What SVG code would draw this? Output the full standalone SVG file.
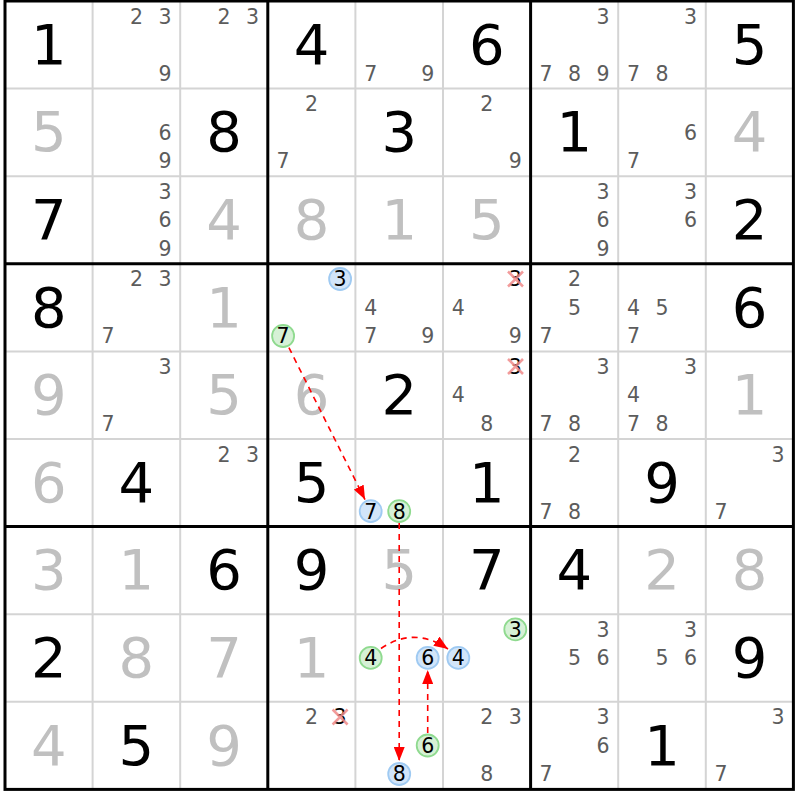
<svg xmlns="http://www.w3.org/2000/svg" width="800" height="800" viewBox="0 0 800 800">
<style>
text{font-family:"DejaVu Sans","Verdana",sans-serif;text-anchor:middle}
.g{font-size:56px;fill:#000}
.s{font-size:56px;fill:#c0c0c0}
.c{font-size:20.5px;fill:#5c5c5c}
.k{font-size:20.5px;fill:#000}
.thin{stroke:#d4d4d4;stroke-width:2}
.thick{stroke:#000;stroke-width:3}
.cb{fill:#d2e5f9;stroke:#9fcaf2;stroke-width:1.8}
.cg{fill:#d6f1d6;stroke:#8fda8f;stroke-width:1.8}
.x{stroke:#f08a8a;stroke-width:2.5;stroke-opacity:0.85}
.lnk{fill:none;stroke:#f00;stroke-width:1.6;stroke-dasharray:6,5}
</style>
<defs>
<marker id="ah" markerWidth="14" markerHeight="11" refX="14" refY="5.5" orient="auto" markerUnits="userSpaceOnUse">
<path d="M0,0 L14,5.5 L0,11 z" fill="#f00"/>
</marker>
</defs>
<rect width="800" height="800" fill="#fff"/>
<g id="grid">
<g class="thin">
<line x1="92.6" y1="1" x2="92.6" y2="789.4"/><line x1="180.2" y1="1" x2="180.2" y2="789.4"/>
<line x1="355.4" y1="1" x2="355.4" y2="789.4"/><line x1="443" y1="1" x2="443" y2="789.4"/>
<line x1="618.2" y1="1" x2="618.2" y2="789.4"/><line x1="705.8" y1="1" x2="705.8" y2="789.4"/>
<line y1="88.6" x1="5" y2="88.6" x2="793.4"/><line y1="176.2" x1="5" y2="176.2" x2="793.4"/>
<line y1="351.4" x1="5" y2="351.4" x2="793.4"/><line y1="439" x1="5" y2="439" x2="793.4"/>
<line y1="614.2" x1="5" y2="614.2" x2="793.4"/><line y1="701.8" x1="5" y2="701.8" x2="793.4"/>
</g>
<g class="thick">
<line x1="267.8" y1="1" x2="267.8" y2="789.4"/><line x1="530.6" y1="1" x2="530.6" y2="789.4"/>
<line y1="263.8" x1="5" y2="263.8" x2="793.4"/><line y1="526.6" x1="5" y2="526.6" x2="793.4"/>
<rect x="5" y="1" width="788.4" height="788.4" fill="none"/>
</g>
</g>
<g id="r1">
<g id="r1c1"><text class="g" x="48.8" y="63.8">1</text></g>
<g id="r1c2"><text class="c" x="136.4" y="23.5">2</text><text class="c" x="164.9" y="23.5">3</text><text class="c" x="164.9" y="80.5">9</text></g>
<g id="r1c3"><text class="c" x="224" y="23.5">2</text><text class="c" x="252.5" y="23.5">3</text></g>
<g id="r1c4"><text class="g" x="311.6" y="63.8">4</text></g>
<g id="r1c5"><text class="c" x="370.7" y="80.5">7</text><text class="c" x="427.7" y="80.5">9</text></g>
<g id="r1c6"><text class="g" x="486.8" y="63.8">6</text></g>
<g id="r1c7"><text class="c" x="602.9" y="23.5">3</text><text class="c" x="545.9" y="80.5">7</text><text class="c" x="574.4" y="80.5">8</text><text class="c" x="602.9" y="80.5">9</text></g>
<g id="r1c8"><text class="c" x="690.5" y="23.5">3</text><text class="c" x="633.5" y="80.5">7</text><text class="c" x="662" y="80.5">8</text></g>
<g id="r1c9"><text class="g" x="749.6" y="63.8">5</text></g>
</g>
<g id="r2">
<g id="r2c1"><text class="s" x="48.8" y="151.4">5</text></g>
<g id="r2c2"><text class="c" x="164.9" y="139.6">6</text><text class="c" x="164.9" y="168.1">9</text></g>
<g id="r2c3"><text class="g" x="224" y="151.4">8</text></g>
<g id="r2c4"><text class="c" x="311.6" y="111.1">2</text><text class="c" x="283.1" y="168.1">7</text></g>
<g id="r2c5"><text class="g" x="399.2" y="151.4">3</text></g>
<g id="r2c6"><text class="c" x="486.8" y="111.1">2</text><text class="c" x="515.3" y="168.1">9</text></g>
<g id="r2c7"><text class="g" x="574.4" y="151.4">1</text></g>
<g id="r2c8"><text class="c" x="690.5" y="139.6">6</text><text class="c" x="633.5" y="168.1">7</text></g>
<g id="r2c9"><text class="s" x="749.6" y="151.4">4</text></g>
</g>
<g id="r3">
<g id="r3c1"><text class="g" x="48.8" y="239">7</text></g>
<g id="r3c2"><text class="c" x="164.9" y="198.7">3</text><text class="c" x="164.9" y="227.2">6</text><text class="c" x="164.9" y="255.7">9</text></g>
<g id="r3c3"><text class="s" x="224" y="239">4</text></g>
<g id="r3c4"><text class="s" x="311.6" y="239">8</text></g>
<g id="r3c5"><text class="s" x="399.2" y="239">1</text></g>
<g id="r3c6"><text class="s" x="486.8" y="239">5</text></g>
<g id="r3c7"><text class="c" x="602.9" y="198.7">3</text><text class="c" x="602.9" y="227.2">6</text><text class="c" x="602.9" y="255.7">9</text></g>
<g id="r3c8"><text class="c" x="690.5" y="198.7">3</text><text class="c" x="690.5" y="227.2">6</text></g>
<g id="r3c9"><text class="g" x="749.6" y="239">2</text></g>
</g>
<g id="r4">
<g id="r4c1"><text class="g" x="48.8" y="326.6">8</text></g>
<g id="r4c2"><text class="c" x="136.4" y="286.3">2</text><text class="c" x="164.9" y="286.3">3</text><text class="c" x="107.9" y="343.3">7</text></g>
<g id="r4c3"><text class="s" x="224" y="326.6">1</text></g>
<g id="r4c4"><circle class="cb" cx="340.1" cy="279" r="11"/><text class="k" x="340.1" y="286.3">3</text><circle class="cg" cx="283.1" cy="336" r="11"/><text class="k" x="283.1" y="343.3">7</text></g>
<g id="r4c5"><text class="c" x="370.7" y="314.8">4</text><text class="c" x="370.7" y="343.3">7</text><text class="c" x="427.7" y="343.3">9</text></g>
<g id="r4c6"><text class="k" x="515.3" y="286.3">3</text><path class="x" d="M508,271.5 L523,286.5 M523,271.5 L508,286.5"/><text class="c" x="458.3" y="314.8">4</text><text class="c" x="515.3" y="343.3">9</text></g>
<g id="r4c7"><text class="c" x="574.4" y="286.3">2</text><text class="c" x="574.4" y="314.8">5</text><text class="c" x="545.9" y="343.3">7</text></g>
<g id="r4c8"><text class="c" x="633.5" y="314.8">4</text><text class="c" x="662" y="314.8">5</text><text class="c" x="633.5" y="343.3">7</text></g>
<g id="r4c9"><text class="g" x="749.6" y="326.6">6</text></g>
</g>
<g id="r5">
<g id="r5c1"><text class="s" x="48.8" y="414.2">9</text></g>
<g id="r5c2"><text class="c" x="164.9" y="373.9">3</text><text class="c" x="107.9" y="430.9">7</text></g>
<g id="r5c3"><text class="s" x="224" y="414.2">5</text></g>
<g id="r5c4"><text class="s" x="311.6" y="414.2">6</text></g>
<g id="r5c5"><text class="g" x="399.2" y="414.2">2</text></g>
<g id="r5c6"><text class="k" x="515.3" y="373.9">3</text><path class="x" d="M508,359 L523,374 M523,359 L508,374"/><text class="c" x="458.3" y="402.4">4</text><text class="c" x="486.8" y="430.9">8</text></g>
<g id="r5c7"><text class="c" x="602.9" y="373.9">3</text><text class="c" x="545.9" y="430.9">7</text><text class="c" x="574.4" y="430.9">8</text></g>
<g id="r5c8"><text class="c" x="690.5" y="373.9">3</text><text class="c" x="633.5" y="402.4">4</text><text class="c" x="633.5" y="430.9">7</text><text class="c" x="662" y="430.9">8</text></g>
<g id="r5c9"><text class="s" x="749.6" y="414.2">1</text></g>
</g>
<g id="r6">
<g id="r6c1"><text class="s" x="48.8" y="501.8">6</text></g>
<g id="r6c2"><text class="g" x="136.4" y="501.8">4</text></g>
<g id="r6c3"><text class="c" x="224" y="461.5">2</text><text class="c" x="252.5" y="461.5">3</text></g>
<g id="r6c4"><text class="g" x="311.6" y="501.8">5</text></g>
<g id="r6c5"><circle class="cb" cx="370.7" cy="511.2" r="11"/><text class="k" x="370.7" y="518.5">7</text><circle class="cg" cx="399.2" cy="511.2" r="11"/><text class="k" x="399.2" y="518.5">8</text></g>
<g id="r6c6"><text class="g" x="486.8" y="501.8">1</text></g>
<g id="r6c7"><text class="c" x="574.4" y="461.5">2</text><text class="c" x="545.9" y="518.5">7</text><text class="c" x="574.4" y="518.5">8</text></g>
<g id="r6c8"><text class="g" x="662" y="501.8">9</text></g>
<g id="r6c9"><text class="c" x="778.1" y="461.5">3</text><text class="c" x="721.1" y="518.5">7</text></g>
</g>
<g id="r7">
<g id="r7c1"><text class="s" x="48.8" y="589.4">3</text></g>
<g id="r7c2"><text class="s" x="136.4" y="589.4">1</text></g>
<g id="r7c3"><text class="g" x="224" y="589.4">6</text></g>
<g id="r7c4"><text class="g" x="311.6" y="589.4">9</text></g>
<g id="r7c5"><text class="s" x="399.2" y="589.4">5</text></g>
<g id="r7c6"><text class="g" x="486.8" y="589.4">7</text></g>
<g id="r7c7"><text class="g" x="574.4" y="589.4">4</text></g>
<g id="r7c8"><text class="s" x="662" y="589.4">2</text></g>
<g id="r7c9"><text class="s" x="749.6" y="589.4">8</text></g>
</g>
<g id="r8">
<g id="r8c1"><text class="g" x="48.8" y="677">2</text></g>
<g id="r8c2"><text class="s" x="136.4" y="677">8</text></g>
<g id="r8c3"><text class="s" x="224" y="677">7</text></g>
<g id="r8c4"><text class="s" x="311.6" y="677">1</text></g>
<g id="r8c5"><circle class="cg" cx="370.7" cy="657.9" r="11"/><text class="k" x="370.7" y="665.2">4</text><circle class="cb" cx="427.7" cy="657.9" r="11"/><text class="k" x="427.7" y="665.2">6</text></g>
<g id="r8c6"><circle class="cg" cx="515.3" cy="629.4" r="11"/><text class="k" x="515.3" y="636.7">3</text><circle class="cb" cx="458.3" cy="657.9" r="11"/><text class="k" x="458.3" y="665.2">4</text></g>
<g id="r8c7"><text class="c" x="602.9" y="636.7">3</text><text class="c" x="574.4" y="665.2">5</text><text class="c" x="602.9" y="665.2">6</text></g>
<g id="r8c8"><text class="c" x="690.5" y="636.7">3</text><text class="c" x="662" y="665.2">5</text><text class="c" x="690.5" y="665.2">6</text></g>
<g id="r8c9"><text class="g" x="749.6" y="677">9</text></g>
</g>
<g id="r9">
<g id="r9c1"><text class="s" x="48.8" y="764.6">4</text></g>
<g id="r9c2"><text class="g" x="136.4" y="764.6">5</text></g>
<g id="r9c3"><text class="s" x="224" y="764.6">9</text></g>
<g id="r9c4"><text class="c" x="311.6" y="724.3">2</text><text class="k" x="340.1" y="724.3">3</text><path class="x" d="M332.6,709.5 L347.6,724.5 M347.6,709.5 L332.6,724.5"/></g>
<g id="r9c5"><circle class="cg" cx="427.7" cy="745.5" r="11"/><text class="k" x="427.7" y="752.8">6</text><circle class="cb" cx="399.2" cy="774" r="11"/><text class="k" x="399.2" y="781.3">8</text></g>
<g id="r9c6"><text class="c" x="486.8" y="724.3">2</text><text class="c" x="515.3" y="724.3">3</text><text class="c" x="486.8" y="781.3">8</text></g>
<g id="r9c7"><text class="c" x="602.9" y="724.3">3</text><text class="c" x="602.9" y="752.8">6</text><text class="c" x="545.9" y="781.3">7</text></g>
<g id="r9c8"><text class="g" x="662" y="764.6">1</text></g>
<g id="r9c9"><text class="c" x="778.1" y="724.3">3</text><text class="c" x="721.1" y="781.3">7</text></g>
</g>
<g id="connectors">
<line class="lnk" x1="288.9" y1="347.6" x2="365" y2="499.6" marker-end="url(#ah)"/>
<line class="lnk" x1="399.2" y1="523" x2="399.2" y2="761" marker-end="url(#ah)"/>
<line class="lnk" x1="427.7" y1="733" x2="427.7" y2="670" marker-end="url(#ah)"/>
<path class="lnk" d="M381,648.5 Q414,626 448,649" marker-end="url(#ah)"/>
</g>
</svg>
